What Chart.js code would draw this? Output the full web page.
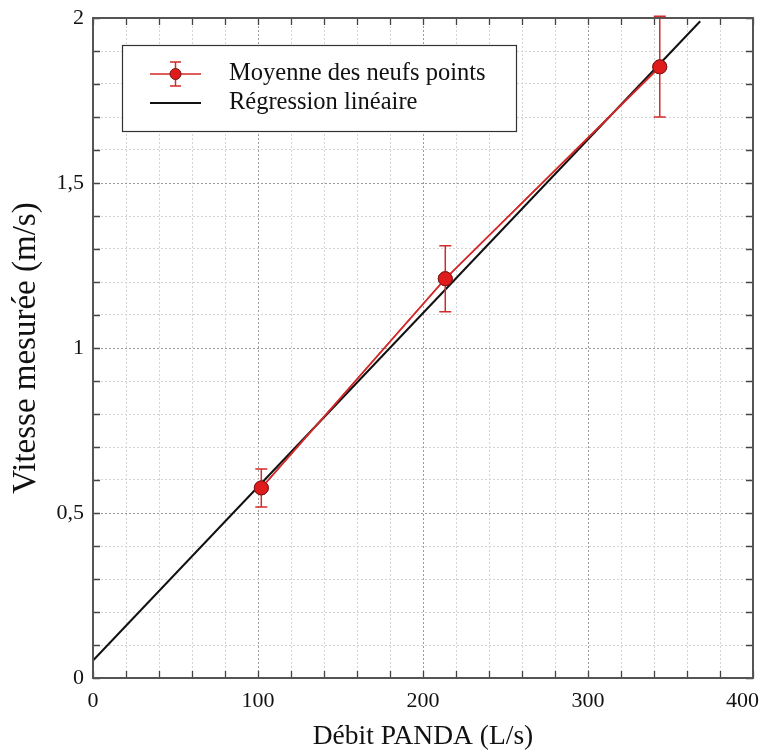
<!DOCTYPE html>
<html>
<head>
<meta charset="utf-8">
<script src="https://cdn.jsdelivr.net/npm/chart.js@4"></script>
<style>
  html, body { margin: 0; padding: 0; background: #fff; }
  canvas { display: block; }
</style>
</head>
<body>
<canvas id="chart" width="765" height="753"></canvas>
<script>
// mean velocity per flow rate, with min/max of the nine points
const debit = [102, 213.5, 343.5];
const vitesse = [0.576, 1.21, 1.852];
const vitesseMin = [0.518, 1.11, 1.70];
const vitesseMax = [0.633, 1.31, 2.005];

// linear fit, drawn between its two end points
const regX = [0, 368];
const regY = [0.053, 1.99];

const legendLabels = ["Moyenne des neufs points", "Régression linéaire"];

const RED = "#d42a2a";
const SERIF = "'Liberation Serif', 'Times New Roman', serif";
const TICK_FONT = "22px " + SERIF;

// error bars, inward tick marks, frame and legend box
const decorations = {
    id: "decorations",
    afterDatasetsDraw(chart) {
        const ctx = chart.ctx;
        const xs = chart.scales.x;
        const ys = chart.scales.y;

        ctx.save();
        ctx.strokeStyle = RED;
        ctx.lineWidth = 1.5;
        debit.forEach((d, i) => {
            const px = xs.getPixelForValue(d);
            const top = ys.getPixelForValue(vitesseMax[i]);
            const bot = ys.getPixelForValue(vitesseMin[i]);
            ctx.beginPath();
            ctx.moveTo(px, top);
            ctx.lineTo(px, bot);
            ctx.moveTo(px - 6, top);
            ctx.lineTo(px + 6, top);
            ctx.moveTo(px - 6, bot);
            ctx.lineTo(px + 6, bot);
            ctx.stroke();
        });
        ctx.restore();

        // redraw the points over the error bars
        chart.getDatasetMeta(0).controller.draw();
    },
    afterDraw(chart) {
        const ctx = chart.ctx;
        const xs = chart.scales.x;
        const ys = chart.scales.y;
        const a = chart.chartArea;

        ctx.save();
        ctx.strokeStyle = "#444";
        ctx.lineWidth = 1.3;
        const tl = 7;
        ctx.beginPath();
        for (let v = 0; v <= 400; v += 20) {
            const px = Math.round(xs.getPixelForValue(v)) + 0.5;
            ctx.moveTo(px, a.bottom);
            ctx.lineTo(px, a.bottom - tl);
            ctx.moveTo(px, a.top);
            ctx.lineTo(px, a.top + tl);
        }
        for (let k = 0; k <= 20; k++) {
            const py = Math.round(ys.getPixelForValue(k / 10)) + 0.5;
            ctx.moveTo(a.left, py);
            ctx.lineTo(a.left + tl, py);
            ctx.moveTo(a.right, py);
            ctx.lineTo(a.right - tl, py);
        }
        ctx.stroke();

        ctx.lineWidth = 2;
        ctx.strokeStyle = "#555";
        ctx.strokeRect(a.left, a.top, a.right - a.left, a.bottom - a.top);

        // last x label sits pulled in from the right edge
        ctx.fillStyle = "#111";
        ctx.font = TICK_FONT;
        ctx.textAlign = "right";
        ctx.textBaseline = "top";
        ctx.fillText("400", 759, a.bottom + 12);
        ctx.textAlign = "left";

        // legend
        const lx = 122, ly = 45, lw = 394, lh = 86;
        ctx.fillStyle = "#fff";
        ctx.fillRect(lx, ly, lw, lh);
        ctx.lineWidth = 1.2;
        ctx.strokeStyle = "#333";
        ctx.strokeRect(lx + 0.5, ly + 0.5, lw, lh);

        const r1 = 74, r2 = 103;
        ctx.strokeStyle = RED;
        ctx.lineWidth = 1.5;
        ctx.beginPath();
        ctx.moveTo(150, r1);
        ctx.lineTo(201, r1);
        ctx.moveTo(175.5, r1 - 12);
        ctx.lineTo(175.5, r1 + 12);
        ctx.moveTo(170, r1 - 12);
        ctx.lineTo(181, r1 - 12);
        ctx.moveTo(170, r1 + 12);
        ctx.lineTo(181, r1 + 12);
        ctx.stroke();
        ctx.beginPath();
        ctx.arc(175.5, r1, 5.5, 0, Math.PI * 2);
        ctx.fillStyle = "#e01b1b";
        ctx.fill();
        ctx.strokeStyle = "#7a1515";
        ctx.lineWidth = 1;
        ctx.stroke();

        ctx.strokeStyle = "#111";
        ctx.lineWidth = 2;
        ctx.beginPath();
        ctx.moveTo(150, r2);
        ctx.lineTo(201, r2);
        ctx.stroke();

        ctx.fillStyle = "#111";
        ctx.font = "24.5px " + SERIF;
        ctx.textBaseline = "middle";
        ctx.fillText(legendLabels[0], 229, r1);
        ctx.fillText(legendLabels[1], 229, r2);
        ctx.restore();
    }
};

const meanPoints = debit.map((d, i) => ({ x: d, y: vitesse[i] }));
const regPoints = regX.map((d, i) => ({ x: d, y: regY[i] }));

new Chart(document.getElementById("chart"), {
    type: "scatter",
    data: {
        datasets: [
            {
                label: legendLabels[0],
                data: meanPoints,
                showLine: true,
                borderColor: RED,
                borderWidth: 1.6,
                pointRadius: 7,
                pointBackgroundColor: "#e01b1b",
                pointBorderColor: "#7a1515",
                pointBorderWidth: 1,
                order: 1,
            },
            {
                label: legendLabels[1],
                data: regPoints,
                showLine: true,
                borderColor: "#111",
                borderWidth: 2,
                pointRadius: 0,
                order: 2,
            },
        ],
    },
    options: {
        responsive: false,
        animation: false,
        devicePixelRatio: 1,
        layout: { padding: { top: 18, right: 12, left: 0, bottom: 0 } },
        plugins: {
            legend: { display: false },
            tooltip: { enabled: false },
        },
        scales: {
            x: {
                type: "linear",
                min: 0,
                max: 400,
                afterFit: (s) => {
                    s.height = 75;
                    s.paddingLeft = 0;
                    s.paddingRight = 0;
                },
                border: { display: false, dash: [2, 2] },
                grid: {
                    drawTicks: false,
                    lineWidth: 1,
                    color: (c) => (c.tick.value % 100 === 0 ? "#9a9a9a" : "#d4d4d4"),
                },
                ticks: {
                    stepSize: 20,
                    autoSkip: false,
                    maxRotation: 0,
                    padding: 10,
                    color: "#111",
                    font: { family: SERIF, size: 22 },
                    callback: (v) => (v % 100 === 0 && v < 400 ? String(v) : ""),
                },
                title: {
                    display: true,
                    text: "Débit PANDA (L/s)",
                    color: "#111",
                    font: { family: SERIF, size: 27.5 },
                    padding: { top: 0, bottom: 0 },
                },
            },
            y: {
                type: "linear",
                min: 0,
                max: 2,
                afterFit: (s) => {
                    s.width = 93;
                    s.paddingTop = 0;
                    s.paddingBottom = 0;
                },
                border: { display: false, dash: [2, 2] },
                grid: {
                    drawTicks: false,
                    lineWidth: 1,
                    color: (c) => (Math.round(c.tick.value * 10) % 5 === 0 ? "#9a9a9a" : "#d4d4d4"),
                },
                ticks: {
                    stepSize: 0.1,
                    autoSkip: false,
                    padding: 9,
                    color: "#111",
                    font: { family: SERIF, size: 22 },
                    callback: (v) => {
                        const k = Math.round(v * 10);
                        if (k % 5 !== 0) return "";
                        return String(k / 10).replace(".", ",");
                    },
                },
                title: {
                    display: true,
                    text: "Vitesse mesurée (m/s)",
                    color: "#111",
                    font: { family: SERIF, size: 33 },
                    padding: { top: 7, bottom: 0 },
                },
            },
        },
    },
    plugins: [decorations],
});
</script>
</body>
</html>
